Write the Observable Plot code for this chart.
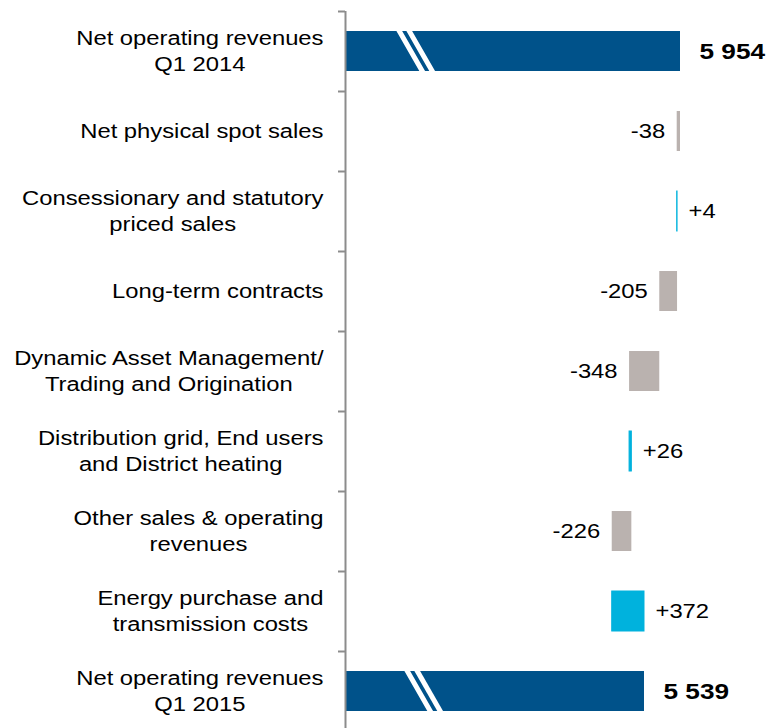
<!DOCTYPE html>
<html>
<head>
<meta charset="utf-8">
<script src="https://cdn.jsdelivr.net/npm/d3@7"></script>
<script src="https://cdn.jsdelivr.net/npm/@observablehq/plot@0.6"></script>
<style>
html, body { margin: 0; padding: 0; background: #fff; overflow: hidden; }
#chart svg { display: block; }
</style>
</head>
<body>
<div id="chart"></div>
<script>
// ---- Data ----
const categories = [
  "Net operating revenues\nQ1 2014",
  "Net physical spot sales",
  "Consessionary and statutory\npriced sales",
  "Long-term contracts",
  "Dynamic Asset Management/\nTrading and Origination",
  "Distribution grid, End users\nand District heating",
  "Other sales & operating\nrevenues",
  "Energy purchase and\ntransmission costs",
  "Net operating revenues\nQ1 2015"
];
const startTotal = 5954;
const changes = [-38, 4, -205, -348, 26, -226, 372];
const endTotal = 5539;
const valueLabels = ["5 954", "-38", "+4", "-205", "-348", "+26", "-226", "+372", "5 539"];

// ---- Build waterfall table ----
const xMin = 2092, xMax = 6957; // broken axis: visible window
let run = startTotal;
const rows = [{i: 0, x1: xMin, x2: startTotal, kind: "total", label: valueLabels[0]}];
changes.forEach((c, k) => {
  const a = run; run += c;
  rows.push({i: k + 1, x1: Math.min(a, run), x2: Math.max(a, run), kind: c < 0 ? "neg" : "pos", label: valueLabels[k + 1]});
});
rows.push({i: 8, x1: xMin, x2: endTotal, kind: "total", label: valueLabels[8]});

const totals = rows.filter(d => d.kind === "total");
const negs = rows.filter(d => d.kind === "neg");
const poss = rows.filter(d => d.kind === "pos");

// axis-break stripes on the total bars (value at bar top, value at bar bottom)
const stripes = [
  {i: 0, xt: 2715, xb: 2980}, {i: 0, xt: 2830, xb: 3095},
  {i: 8, xt: 2807, xb: 3072}, {i: 8, xt: 2922, xb: 3187}
];

const BLUE = "#00528A", GREY = "#BAB2AF", CYAN = "#00B2DD", AXIS = "#8C8C8C";
const boundaries = d3.range(-0.5, 9, 1);

const chart = Plot.plot({
  width: 767,
  height: 731,
  marginLeft: 345,
  marginRight: 0,
  marginTop: 11,
  marginBottom: 0,
  style: {fontFamily: "'Liberation Sans', Arial, sans-serif", fontSize: "20px", color: "#000", background: "#fff"},
  x: {domain: [xMin, xMax], axis: null},
  y: {domain: [8.5, -0.5], axis: null},
  marks: [
    Plot.rectX(totals, {x1: "x1", x2: "x2", y1: d => d.i - 0.25, y2: d => d.i + 0.25, fill: BLUE}),
    Plot.rectX(negs, {x1: "x1", x2: "x2", y1: d => d.i - 0.25, y2: d => d.i + 0.25, fill: GREY}),
    Plot.rectX(poss, {x1: "x1", x2: "x2", y1: d => d.i - 0.25, y2: d => d.i + 0.25, fill: CYAN, stroke: CYAN, strokeWidth: 1}),
    Plot.link(stripes, {x1: "xt", y1: d => d.i - 0.25, x2: "xb", y2: d => d.i + 0.25, stroke: "#fff", strokeWidth: 5, strokeLinecap: "square"}),
    Plot.ruleX([xMin], {stroke: AXIS, strokeWidth: 2}),
    Plot.axisY({ticks: boundaries, tickSize: 7, tickFormat: () => "", label: null, stroke: AXIS, strokeWidth: 2}),
    Plot.text(rows, {frameAnchor: "left", y: "i", text: d => categories[d.i], textAnchor: "end", dx: -22, dy: -2, fontSize: 20, lineHeight: 1.3, fill: "#000"}),
    Plot.text(totals, {x: "x2", y: "i", text: "label", textAnchor: "start", dx: 19, fontSize: 22, fontWeight: "bold", fill: "#000"}),
    Plot.text(negs, {x: "x1", y: "i", text: "label", textAnchor: "end", dx: -12, fontSize: 20, fill: "#000"}),
    Plot.text(poss, {x: "x2", y: "i", text: "label", textAnchor: "start", dx: 11, fontSize: 20, fill: "#000"})
  ]
});

document.getElementById("chart").appendChild(chart);

chart.querySelectorAll("text").forEach(t => {
  // multi-line category labels: lines centred within a right-aligned block
  const spans = Array.from(t.querySelectorAll("tspan"));
  if (spans.length > 1) {
    const w = spans.map(s => s.getComputedTextLength());
    const maxW = Math.max(...w);
    spans.forEach((s, k) => s.setAttribute("x", -(maxW - w[k]) / 2));
  }
  // the reference typography is horizontally stretched; widen each text about its own anchor
  const tr = t.getAttribute("transform");
  if (tr) t.setAttribute("transform", tr + " scale(1.19,1)");
});
</script>
</body>
</html>
